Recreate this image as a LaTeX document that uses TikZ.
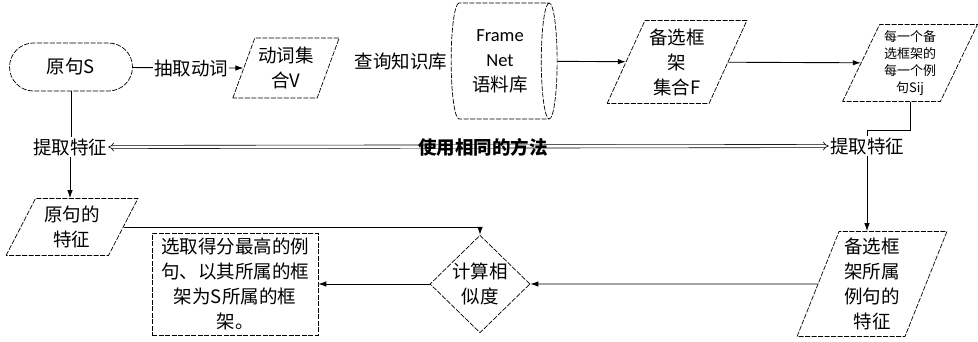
\documentclass[tikz,border=0pt]{standalone}
\usepackage{fontspec}
\setmainfont{Noto Sans CJK SC}
\newfontfamily\latinsans{Carlito}
\usetikzlibrary{shapes.geometric,shapes.misc,arrows.meta}
\begin{document}
\begin{tikzpicture}[x=1pt,y=-1pt,
  every node/.style={font=\fontsize{18.5}{25}\selectfont, align=center},
  shp/.style={draw, line width=0.7pt, dash pattern=on 5pt off 1.5pt},
  term/.style={shp, rounded rectangle, minimum width=123pt, minimum height=48pt, inner sep=0pt},
  para/.style={shp, trapezium, trapezium left angle=#1, trapezium right angle={180-#1},
               trapezium stretches=true, inner sep=0pt},
  cyl/.style={shp, cylinder, aspect=0.25, minimum width=116pt, minimum height=106pt, inner sep=0pt},
  dia/.style={shp, diamond, minimum width=100pt, minimum height=80pt, inner sep=0pt},
  box/.style={shp, rectangle, minimum width=166pt, minimum height=102pt, inner sep=0pt},
  lbl/.style={inner sep=1pt},
  conn/.style={line width=0.9pt},
  arr/.style={conn, -{Latex[length=8pt,width=5.5pt]}},
  dbl/.style={line width=0.6pt, double, double distance=2.6pt, {Implies}-{Implies}}
]
\useasboundingbox (0,0) rectangle (978,341);

% top row
\node[term] (S) at (71,67) {原句S};
\node[lbl] (ex) at (191,68) {抽取动词};
\node[para=65, minimum width=107pt, minimum height=60pt] (V) at (286,68) {动词集\\合V};
\node[lbl] (q) at (401,62) {查询知识库};
\node[cyl] (FN) at (500,61) {{\latinsans Frame}\\{\latinsans Net}\\语料库};
\node[para=64, minimum width=140pt, minimum height=83pt] (F) at (677,62) {备选框\\架\\集合F};
\node[para=64, minimum width=135pt, minimum height=77pt,
      font=\fontsize{13}{17}\selectfont] (Sij) at (910,63) {每一个备\\选框架的\\每一个例\\句Sij};

% middle row
\node[lbl] (fl) at (70,147) {提取特征};
\node[lbl] (fr) at (867,146) {提取特征};

% bottom row
\node[para=62, minimum width=133pt, minimum height=57pt] (of) at (72,227) {原句的\\特征};
\node[dia] (calc) at (480,284) {计算相\\似度};
\node[box] (res) at (235,284) {选取得分最高的例\\句、以其所属的框\\架为S所属的框\\架。};
\node[para=69, minimum width=150pt, minimum height=105pt] (cf) at (872,284) {备选框\\架所属\\例句的\\特征};

% connectors
\draw[conn] (S) -- (ex);
\draw[arr] (ex) -- (V);
\draw[arr] (FN) -- (F);
\draw[arr] (F) -- (Sij);
\draw[conn] (Sij.south) -- ++(0,29) -| (fr.north);
\draw[conn] (S.south) -- (S.south |- fl.north);
\draw[arr] (fl) -- (fl |- of.north);
\draw[arr] (of.east) -| (calc.north);
\draw[arr] (calc) -- (res);
\draw[arr] (cf) -- (calc);
\draw[arr] (fr) -- (fr |- cf.north);
\draw[dbl] (fl.east) -- (fr.west);
\node[lbl, font=\bfseries\fontsize{18.5}{25}\selectfont] (same) at (483,147) {使用相同的方法};
\end{tikzpicture}
\end{document}
